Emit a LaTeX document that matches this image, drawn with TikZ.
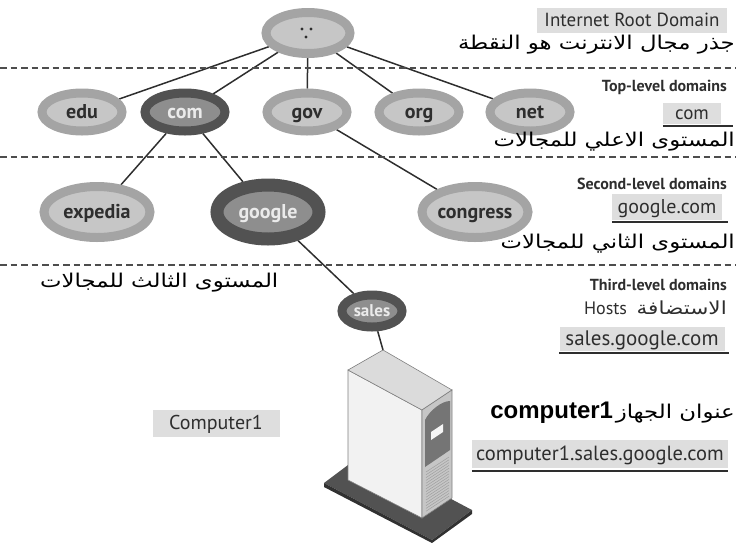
\documentclass[tikz,border=0pt]{standalone}
\usepackage{fontspec}
\setmainfont{PT Sans}
\newfontfamily\arabicfont[Script=Arabic, FakeStretch=1.2]{DejaVu Sans}
\newfontfamily\heavyfont{Liberation Sans}
\TeXXeTstate=1
\usetikzlibrary{shapes.geometric,backgrounds}

\definecolor{ringgray}{HTML}{A4A4A4}
\definecolor{coregray}{HTML}{C6C6C6}
\definecolor{darkring}{HTML}{525252}
\definecolor{darkcore}{HTML}{8E8E8E}
\definecolor{boxgray}{HTML}{DEDEDE}
\definecolor{inkgray}{HTML}{2E2E2E}

\tikzset{
  dnsnode/.style={ellipse, draw=ringgray, fill=coregray, line width=9pt,
    inner sep=0pt, text=inkgray, text height=14pt, text depth=0.5pt,
    font=\fontsize{20}{22}\selectfont\bfseries},
  hotnode/.style={dnsnode, draw=darkring, fill=darkcore, text=white!92!black},
  levelline/.style={draw=inkgray!85, line width=1.9pt, dash pattern=on 6.5pt off 4pt},
  link/.style={draw=inkgray, line width=1.5pt},
  tag/.style={fill=boxgray, inner sep=0pt, text=inkgray, text height=13.5pt, text depth=1pt},
  uline/.style={draw=inkgray, line width=1.7pt},
  caption/.style={text=inkgray, inner sep=0pt, font=\fontsize{16}{18}\selectfont\bfseries},
  artext/.style={text=black, inner sep=0pt, font=\fontsize{19}{22}\arabicfont}
}

\begin{document}
\begin{tikzpicture}[x=1pt,y=-1pt]
\useasboundingbox (0,0) rectangle (738,542);

% level separators
\draw[levelline] (0,68) -- (736,68);
\draw[levelline] (0,157) -- (736,157);
\draw[levelline] (0,265) -- (736,265);

% root of the tree
\node[dnsnode, minimum width=84pt, minimum height=41pt] (root) at (308,33) {};
\fill[inkgray] (302,29) circle (1.6) (311,29) circle (1.6) (306,37) circle (1.6);

% top-level domains
\node[dnsnode, minimum width=80pt, minimum height=38pt] (edu) at (82,112) {edu};
\node[hotnode, minimum width=80pt, minimum height=38pt] (com) at (185,112) {com};
\node[dnsnode, minimum width=80pt, minimum height=38pt] (gov) at (307,112) {gov};
\node[dnsnode, minimum width=80pt, minimum height=38pt] (org) at (419,112) {org};
\node[dnsnode, minimum width=80pt, minimum height=38pt] (net) at (530,112) {net};

% second-level domains
\node[dnsnode, minimum width=106pt, minimum height=51pt] (expedia) at (97,212) {expedia};
\node[hotnode, minimum width=102pt, minimum height=54pt, line width=13pt] (google) at (268,212) {google};
\node[dnsnode, minimum width=106pt, minimum height=51pt] (congress) at (475,212) {congress};

% third-level domain
\node[hotnode, minimum width=60pt, minimum height=32pt, line width=9pt,
      text height=12pt, text depth=0.5pt,
      font=\fontsize{17}{19}\selectfont\bfseries] (sales) at (372,311) {sales};

% server tower on its base plate
\coordinate (srvtop) at (383,350);
\fill[darkring] (324,483) -- (364,453) -- (472,510) -- (432,540) -- cycle;
\fill[darkring!60!black] (324,483) -- (432,540) -- (432,543) -- (324,487) -- cycle;
\fill[darkring!60!black] (432,540) -- (472,510) -- (472,514) -- (432,543) -- cycle;
\filldraw[draw=gray, line width=0.6pt, fill=gray!10] (348,370) -- (422,410) -- (422,518) -- (348,480) -- cycle;
\filldraw[draw=gray, line width=0.6pt, fill=gray!28] (348,370) -- (383,350) -- (452,390) -- (422,410) -- cycle;
\filldraw[draw=gray, line width=0.6pt, fill=gray!45] (422,410) -- (452,390) -- (452,498) -- (422,518) -- cycle;
\fill[darkring!80] (425,420) .. controls (430,410) and (442,401) .. (450,401) -- (450,450) -- (425,467) -- cycle;
\fill[gray!8] (431,432) -- (443,424) -- (443,432) -- (431,440) -- cycle;
\foreach \k in {0,...,14} {
  \draw[gray!75, line width=0.5pt] (426,472+\k*2.8) -- (449,457+\k*2.8);
}

% connectors, kept behind the nodes
\begin{scope}[on background layer]
  \draw[link] (root) -- (edu);
  \draw[link] (root) -- (com);
  \draw[link] (root) -- (gov);
  \draw[link] (root) -- (org);
  \draw[link] (root) -- (net);
  \draw[link] (com) -- (expedia);
  \draw[link] (com) -- (google);
  \draw[link] (gov) -- (congress);
  \draw[link] (google) -- (sales);
  \draw[link] (sales) -- (srvtop);
\end{scope}

% right-hand legend
\node[tag, minimum width=190pt, minimum height=25pt, font=\fontsize{19}{21}\selectfont] (rootlbl) at (632,20.5) {Internet Root Domain};
\node[artext, anchor=east] (rootar) at (735,45) {\beginR جذر مجال الانترنت هو النقطة\endR};

\node[caption, anchor=east] (tldcap) at (727,87) {Top-level domains};
\node[tag, minimum width=58pt, minimum height=21pt, font=\fontsize{19}{21}\selectfont] (tldex) at (692,113) {com};
\draw[uline] ([yshift=-2pt]tldex.south west) -- ([yshift=-2pt,xshift=12pt]tldex.south east);
\node[artext, anchor=east] (tldar) at (735,142) {\beginR المستوى الاعلي للمجالات\endR};

\node[caption, anchor=east] (sldcap) at (727,184) {Second-level domains};
\node[tag, minimum width=110pt, minimum height=26pt, font=\fontsize{20}{22}\selectfont] (sldex) at (667,207) {google.com};
\draw[uline] ([yshift=-2pt]sldex.south west) -- ([yshift=-2pt,xshift=6pt]sldex.south east);
\node[artext, anchor=east] (sldar) at (735,244) {\beginR المستوى الثاني للمجالات\endR};

\node[artext, anchor=west] (thirdar) at (40,283) {\beginR المستوى الثالث للمجالات\endR};
\node[caption, anchor=east] (thirdcap) at (727,285) {Third-level domains};
\node[caption, anchor=east, font=\fontsize{18}{20}\selectfont] (hosts) at (727,308) {Hosts\ \ {\fontsize{18}{20}\arabicfont\beginR الاستضافة\endR}};
\node[tag, minimum width=165pt, minimum height=24pt, font=\fontsize{21}{23}\selectfont] (hostex) at (642,339) {sales.google.com};
\draw[uline] ([yshift=-2pt]hostex.south west) -- ([yshift=-2pt,xshift=4pt]hostex.south east);

\node[tag, minimum width=127pt, minimum height=27pt, font=\fontsize{20}{22}\selectfont] (pc) at (216,423) {Computer1};
\node[text=black, inner sep=0pt, anchor=east] (pcar) at (735,413)
  {{\fontsize{24}{26}\heavyfont\bfseries computer1}\ {\fontsize{19}{22}\arabicfont\beginR عنوان الجهاز\endR}};
\node[tag, minimum width=256pt, minimum height=28pt, font=\fontsize{20.5}{22}\selectfont] (fqdn) at (600,454) {computer1.sales.google.com};
\draw[uline] ([yshift=-3pt]fqdn.south west) -- ([yshift=-3pt]fqdn.south east);
\end{tikzpicture}
\end{document}
